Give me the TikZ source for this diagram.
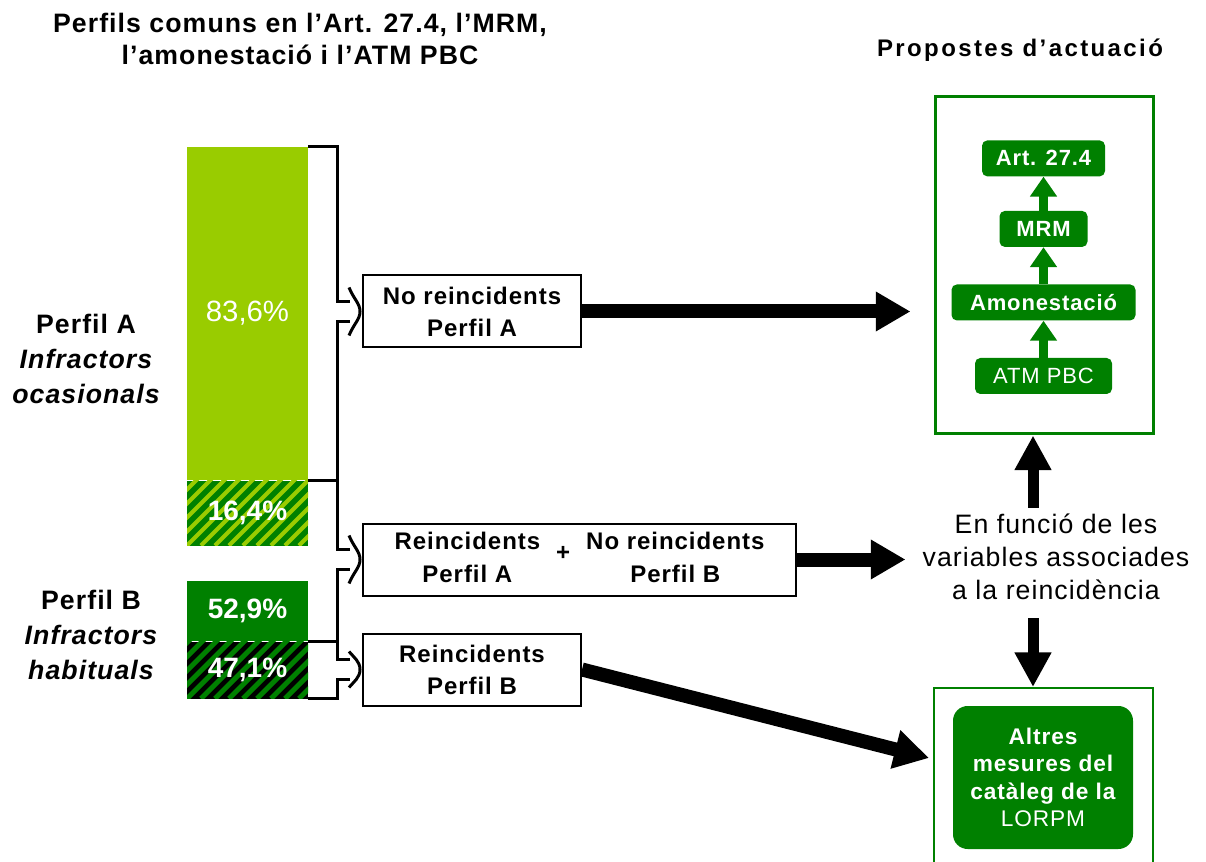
\documentclass[tikz,border=0pt]{standalone}
\usepackage{fontspec}
\setmainfont{Liberation Sans}
\newfontfamily\spacedfont[LetterSpace=4]{Liberation Sans}
\newfontfamily\widefont[LetterSpace=10]{Liberation Sans}
\usetikzlibrary{arrows.meta, positioning, calc}
\definecolor{limegreen}{HTML}{99CC00}
\definecolor{darkgreen}{HTML}{008000}
\newlength\pxu
\setlength\pxu{0.75pt}

\begin{document}
\begin{tikzpicture}[
    x=0.75pt, y=-0.75pt,
    bar/.style={minimum width=121\pxu, inner sep=0, fill=#1, text=white},
    hatch/.style n args={2}{path picture={
        \foreach \s in {0,14,...,210}
            \draw[#1, line width=#2] ($(path picture bounding box.south west)+(\s-70,0)$) -- ++(70,-70);}},
    pct/.style={font=\bfseries\fontsize{21}{26}\selectfont},
    sidetext/.style={align=center, inner sep=0, font=\spacedfont\bfseries\fontsize{20}{26}\selectfont},
    box/.style={draw, line width=1.5pt, minimum width=218\pxu, minimum height=72\pxu, inner sep=0, align=center, font=\spacedfont\bfseries\fontsize{18}{24}\selectfont},
    bracket/.style={line width=2.25pt},
    bigarrow/.style={line width=10.5pt, -{Triangle[length=26pt, width=28pt]}},
    vertarrow/.style={line width=8.25pt, -{Triangle[length=26pt, width=26pt]}},
    greenarrow/.style={darkgreen, line width=6.75pt, -{Triangle[length=15pt, width=19.5pt]}},
    frame/.style={draw=darkgreen, line width=#1, inner sep=0},
    stage/.style={fill=darkgreen, text=white, rounded corners=4pt, minimum height=36\pxu, inner sep=0, font=\spacedfont\bfseries\fontsize{16.5}{18}\selectfont}
]
\useasboundingbox (0,0) rectangle (1206,862);

% Headings
\node[align=center, inner sep=0, font=\spacedfont\bfseries\fontsize{20}{24}\selectfont] (title) at (300,39) {Perfils comuns en l’Art. 27.4, l’MRM,\\l’amonestació i l’ATM PBC};
\node[inner sep=0, font=\widefont\bfseries\fontsize{18}{20}\selectfont] (prophead) at (1020,50) {Propostes d’actuació};

% Stacked bars
\node[bar=limegreen, minimum height=333\pxu, font=\fontsize{22}{26}\selectfont] (barA) at (247.5,313.5) {83,6\%};
\node[bar=darkgreen, hatch={limegreen}{3pt}, minimum height=65\pxu, below=0pt of barA, pct] (hatA) {16,4\%};
\node[bar=darkgreen, minimum height=60\pxu, below=26.25pt of hatA, pct] (barB) {52,9\%};
\node[bar=black, hatch={darkgreen}{3.75pt}, minimum height=57\pxu, below=0pt of barB, pct] (hatB) {47,1\%};

\node[sidetext] (perfA) at (86,359) {Perfil A\\{\itshape Infractors}\\{\itshape ocasionals}};
\node[sidetext] (perfB) at (91,635) {Perfil B\\{\itshape Infractors}\\{\itshape habituals}};

% Groups
\node[box] (box1) at (472,311.5) {No reincidents\\Perfil A};
\node[box, minimum width=433\pxu] (box2) at (579.5,559.5) {\begin{tabular}{@{}c@{\hspace{12pt}}c@{\hspace{12pt}}c@{}}Reincidents & \raisebox{-8pt}{+} & No reincidents\\Perfil A & & Perfil B\end{tabular}};
\node[box] (box3) at (472,669.5) {Reincidents\\Perfil B};

% Brackets
\coordinate (brx) at (337,0);
\foreach \hi/\lo/\tgt/\hh in {barA.north east/hatA.north east/box1/24, hatA.north east/hatB.north east/box2/24, hatB.north east/hatB.south east/box3/18} {
    \draw[bracket] (\hi) -| ($(brx |- \tgt.west)+(0,-10)$) -- ++(13,0);
    \draw[bracket] (\lo) -| ($(brx |- \tgt.west)+(0,10)$) -- ++(13,0);
    \draw[bracket] ($(\tgt.west)+(-13,-\hh)$) .. controls ($(\tgt.west)+(-8,-12)$) and ($(\tgt.west)+(-2,-8)$) .. ($(\tgt.west)+(-2,0)$)
        .. controls ($(\tgt.west)+(-2,8)$) and ($(\tgt.west)+(-8,12)$) .. ($(\tgt.west)+(-13,\hh)$);
}

% Proposals
\node[frame=2.25pt, minimum width=218\pxu, minimum height=337\pxu] (propbox) at (1044,265.5) {};
\node[stage, minimum width=137\pxu, font=\spacedfont\fontsize{16.5}{18}\selectfont] (atm) at (1043.5,376) {ATM PBC};
\node[stage, minimum width=184\pxu, above=27.75pt of atm] (amon) {Amonestació};
\node[stage, minimum width=88\pxu, above=27.75pt of amon] (mrm) {MRM};
\node[stage, minimum width=123\pxu, above=25.5pt of mrm] (art) {Art. 27.4};
\draw[greenarrow] (atm) -- (amon);
\draw[greenarrow] (amon) -- (mrm);
\draw[greenarrow] (mrm) -- (art);

\node[align=center, inner sep=0, font=\spacedfont\fontsize{20}{24.75}\selectfont] (varnode) at (1056,557) {En funció de les\\variables associades\\a la reincidència};

\node[frame=1.5pt, minimum width=219\pxu, minimum height=194\pxu] (lowbox) at (1043.5,785) {};
\node[fill=darkgreen, text=white, rounded corners=11pt, minimum width=180\pxu, minimum height=143\pxu, inner sep=0, align=center, font=\spacedfont\bfseries\fontsize{17}{20.5}\selectfont] (altres) at (1043,777.5) {Altres\\mesures del\\catàleg de la\\{\mdseries LORPM}};

% Arrows
\coordinate (upx) at (1033,0);
\draw[bigarrow] (box1.east) -- ($(box1.east -| propbox.west)+(-23,0)$);
\draw[bigarrow] (box2.east) -- ($(box2.east -| propbox.west)+(-28,0)$);
\draw[bigarrow] (box3.east) -- ($(lowbox.west)+(-4,-27)$);
\draw[vertarrow] ($(upx |- varnode.north)+(0,-6)$) -- (upx |- propbox.south);
\draw[vertarrow] ($(upx |- varnode.south)+(0,18)$) -- (upx |- lowbox.north);

\end{tikzpicture}
\end{document}
